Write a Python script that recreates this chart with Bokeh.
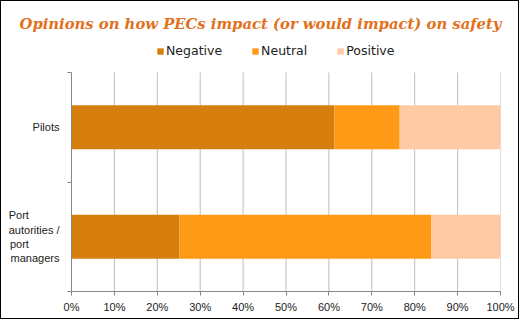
from bokeh.plotting import figure
from bokeh.models import (FixedTicker, NumeralTickFormatter, Range1d, Legend, LegendItem,
                          ColumnDataSource)
from bokeh.embed import file_html
from bokeh.resources import INLINE

groups = ["Port autorities / port managers", "Pilots"]
nb = "\u00a0"
group_labels = ["Port" + nb * 10 + "\nautorities /\nport" + nb * 10 + "\nmanagers", "Pilots"]
negative = [0.252, 0.613]
neutral = [0.587, 0.152]
positive = [0.161, 0.235]
series = ["Negative", "Neutral", "Positive"]
colors = ["#D67F0E", "#FF9A17", "#FFCBA4"]
x_ticks = [0.0, 0.1, 0.2, 0.3, 0.4, 0.5, 0.6, 0.7, 0.8, 0.9, 1.0]
title_text = "Opinions on how PECs impact (or would impact) on safety"

ypos = [0.5, 1.5]
src = ColumnDataSource(dict(y=ypos, Negative=negative, Neutral=neutral, Positive=positive))

FRAME_TOP = 30  # frame top (inner px), below the title border
y_top = 2 + (71 - FRAME_TOP) * (2 / 219)

p = figure(width=519, height=319, output_backend="svg", toolbar_location=None,
           x_range=Range1d(0, 1), y_range=Range1d(0, y_top),
           min_border_left=70, min_border_right=20, min_border_top=FRAME_TOP, min_border_bottom=29,
           styles={"border": "1px solid black"})
p.background_fill_color = "white"
p.border_fill_color = "white"
p.outline_line_color = None

p.title.text = title_text
p.title.align = "left"
p.title.offset = -52
p.title.standoff = 0
p.title.text_font = "DejaVu Serif"
p.title.text_font_style = "bold italic"
p.title.text_font_size = "14.8px"
p.title.text_color = "#E2711D"

# vertical gridlines limited to the category band
p.segment(x0=x_ticks, y0=[0] * len(x_ticks), x1=x_ticks, y1=[2] * len(x_ticks),
          line_color="#BEBEBE", line_width=1)

renderers = p.hbar_stack(series, y="y", height=0.4, color=colors, source=src, line_color=None)

# x axis
xa = p.xaxis[0]
xa.ticker = FixedTicker(ticks=x_ticks)
xa.formatter = NumeralTickFormatter(format="0%")
xa.axis_line_color = "#868686"
xa.major_tick_line_color = "#868686"
xa.major_tick_out = 4
xa.major_tick_in = 0
xa.minor_tick_line_color = None
xa.major_label_text_font = "Liberation Sans"
xa.major_label_text_font_size = "11px"
xa.major_label_text_color = "#222222"
xa.major_label_standoff = 5

# y axis
ya = p.yaxis[0]
ya.ticker = FixedTicker(ticks=ypos, minor_ticks=[0, 1, 2])
ya.bounds = (0, 2)
ya.major_label_overrides = {0.5: group_labels[0], 1.5: group_labels[1]}
ya.axis_line_color = "#868686"
ya.major_tick_line_color = None
ya.minor_tick_line_color = "#868686"
ya.minor_tick_out = 4
ya.minor_tick_in = 0
ya.major_label_text_font = "Liberation Sans"
ya.major_label_text_font_size = "11px"
ya.major_label_text_color = "#222222"
ya.major_label_standoff = 6

p.xgrid.grid_line_color = None
p.ygrid.grid_line_color = None

legend = Legend(items=[LegendItem(label=s, renderers=[r]) for s, r in zip(series, renderers)],
                orientation="horizontal", location=(85, 233),
                glyph_width=8, glyph_height=8, label_text_font="DejaVu Sans",
                label_text_font_size="12.5px", label_text_color="#222222",
                spacing=29, padding=2, margin=0, label_standoff=2,
                border_line_color=None, background_fill_alpha=0)
p.add_layout(legend, "center")

open("out.html", "w").write(file_html(p, INLINE))
